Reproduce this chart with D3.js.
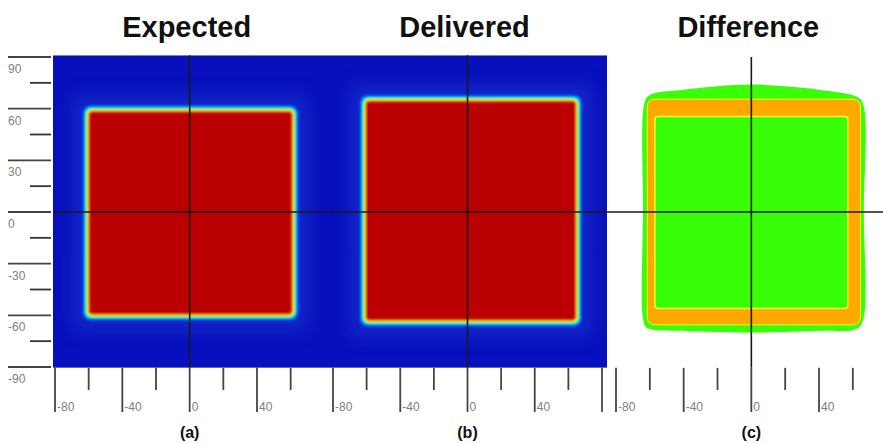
<!DOCTYPE html>
<html><head><meta charset="utf-8">
<script src="https://cdn.jsdelivr.net/npm/d3@7"></script>
<style>html,body{margin:0;padding:0;background:#fff;}svg{display:block;}</style>
</head><body><svg id="c" width="883" height="443"></svg>
<script>
// ---------- data ----------
const panelTitles = ["Expected", "Delivered", "Difference"];
const panelTags = ["(a)", "(b)", "(c)"];
const yMajorTicks = [90, 60, 30, 0, -30, -60, -90];
const yMajorLabels = ["90", "60", "30", "0", "-30", "-60", "-90"];
const yMinorTicks = [75, 45, 15, -15, -45, -75];
const xMajorTicksA = [-80, -40, 0, 40];
const xMajorTicksB = [-80, -40, 0, 40, 80];
const xMajorTicksC = [-80, -40, 0, 40];
const xMajorLabelsA = ["-80", "-40", "0", "40"];
const xMajorLabelsB = ["-80", "-40", "0", "40", ""];
const xMajorLabelsC = ["-80", "-40", "0", "40"];
const xMinorTicks = [-60, -20, 20, 60];
// field edges (50% isodose) [x0, x1, y0, y1] in mm
const expectedField = [-61, 62, -60.5, 59.5];
const deliveredField = [-61.5, 65.5, -64, 65.5];
// difference map regions
const diffOuterX = [-63, -60, -40, -20, 0, 20, 40, 62, 66, 66.5, 66, 62, 40, 0, -40, -62, -64, -64];
const diffOuterY = [64, 68, 71, 73, 74, 73, 71, 67, 63, 0, -63, -68, -69, -70, -69, -67, -62, 0];
const diffBand = [-61.5, 64.5, -65.5, 65.5];
const diffInner = [-57, 57, -56, 55.5];

// ---------- layout ----------
const svg = d3.select("#c");
const y = d3.scaleLinear().domain([-90, 90]).range([367, 57]);
const xs = [
  d3.scaleLinear().domain([-80, 40]).range([55, 257]),
  d3.scaleLinear().domain([-80, 80]).range([333, 602]),
  d3.scaleLinear().domain([-80, 40]).range([616, 819])
];
const panelX = [[53, 330], [330, 607], [607, 883]];
const blueTop = y(91), blueBot = y(-90.5);

const defs = svg.append("defs");
defs.append("filter").attr("id", "soft").attr("x", "-10%").attr("y", "-10%").attr("width", "120%").attr("height", "120%")
  .append("feGaussianBlur").attr("stdDeviation", 0.9);
defs.append("filter").attr("id", "halo").attr("x", "-30%").attr("y", "-30%").attr("width", "160%").attr("height", "160%")
  .append("feGaussianBlur").attr("stdDeviation", 9);
panelX.forEach((p, i) => {
  defs.append("clipPath").attr("id", "clip" + i).append("rect")
    .attr("x", p[0]).attr("y", blueTop).attr("width", p[1] - p[0]).attr("height", blueBot - blueTop);
});

// ---------- heat maps (a), (b) ----------
const rings = [
  {d: 5, c: "#0c30d8"}, {d: 3.8, c: "#0060f4"}, {d: 2.8, c: "#00a8ff"}, {d: 1.9, c: "#00e4d0"},
  {d: 1.0, c: "#50ff60"}, {d: 0.1, c: "#d8ff10"}, {d: -0.8, c: "#ffb000"}, {d: -1.6, c: "#ff4000"}
];
[expectedField, deliveredField].forEach((f, i) => {
  const x = xs[i];
  const g = svg.append("g").attr("clip-path", `url(#clip${i})`);
  g.append("rect").attr("x", panelX[i][0]).attr("y", blueTop)
    .attr("width", panelX[i][1] - panelX[i][0]).attr("height", blueBot - blueTop).attr("fill", "#0710bc");
  const L = x(f[0]), R = x(f[1]), T = y(f[3]), B = y(f[2]);
  g.append("rect").attr("x", L - 14).attr("y", T - 14).attr("width", R - L + 28).attr("height", B - T + 28)
    .attr("fill", "#2440d4").attr("opacity", 0.5).attr("filter", "url(#halo)");
  const fg = g.append("g").attr("filter", "url(#soft)");
  rings.forEach(r => {
    fg.append("rect").attr("x", L - r.d).attr("y", T - r.d)
      .attr("width", R - L + 2 * r.d).attr("height", B - T + 2 * r.d)
      .attr("rx", 5 + r.d * 0.6).attr("fill", r.c);
  });
  fg.append("rect").attr("x", L + 2.5).attr("y", T + 2.5)
    .attr("width", R - L - 5).attr("height", B - T - 5).attr("rx", 3).attr("fill", "#ba0604");
});

// ---------- difference map (c) ----------
{
  const x = xs[2];
  const g = svg.append("g");
  const pts = diffOuterX.map((v, k) => [x(v), y(diffOuterY[k])]);
  g.append("path").attr("d", d3.line().curve(d3.curveCatmullRomClosed.alpha(0.5))(pts))
    .attr("fill", "#38ff08");
  g.append("rect").attr("x", x(diffBand[0])).attr("y", y(diffBand[3]))
    .attr("width", x(diffBand[1]) - x(diffBand[0])).attr("height", y(diffBand[2]) - y(diffBand[3]))
    .attr("rx", 7).attr("fill", "#ffa800").attr("stroke", "#f8f020").attr("stroke-width", 1);
  g.append("rect").attr("x", x(diffInner[0])).attr("y", y(diffInner[3]))
    .attr("width", x(diffInner[1]) - x(diffInner[0])).attr("height", y(diffInner[2]) - y(diffInner[3]))
    .attr("rx", 3).attr("fill", "#38ff08").attr("stroke", "#f0ff30").attr("stroke-width", 1.5);
}

// ---------- cross lines ----------
svg.append("line").attr("x1", 53).attr("x2", 883).attr("y1", y(0)).attr("y2", y(0))
  .attr("stroke", "#1a1a1a").attr("stroke-width", 1.6);
xs.forEach((x, i) => {
  svg.append("line").attr("x1", x(0)).attr("x2", x(0)).attr("y1", i === 2 ? 57 : blueTop).attr("y2", blueBot)
    .attr("stroke", "#1a1a1a").attr("stroke-width", 1.6);
});

// ---------- left axis ----------
const tickCol = "#444", labCol = "#808080";
svg.selectAll(".ymaj").data(yMajorTicks).enter().append("line")
  .attr("x1", 8).attr("x2", 51).attr("y1", d => y(d)).attr("y2", d => y(d))
  .attr("stroke", tickCol).attr("stroke-width", 1.8);
svg.selectAll(".ymin").data(yMinorTicks).enter().append("line")
  .attr("x1", 30).attr("x2", 51).attr("y1", d => y(d)).attr("y2", d => y(d))
  .attr("stroke", "#333").attr("stroke-width", 1.8);
svg.selectAll(".ylab").data(yMajorTicks).enter().append("text")
  .attr("x", 8).attr("y", d => y(d) + 16).text((d, k) => yMajorLabels[k])
  .attr("font-family", "Liberation Sans, Arial, sans-serif").attr("font-size", 12).attr("fill", labCol);

// ---------- bottom axes ----------
const majors = [xMajorTicksA, xMajorTicksB, xMajorTicksC];
const majorLabels = [xMajorLabelsA, xMajorLabelsB, xMajorLabelsC];
xs.forEach((x, i) => {
  const g = svg.append("g");
  g.selectAll("line.maj").data(majors[i]).enter().append("line")
    .attr("x1", d => x(d)).attr("x2", d => x(d)).attr("y1", blueBot).attr("y2", 412)
    .attr("stroke", tickCol).attr("stroke-width", 1.8);
  g.selectAll("line.min").data(xMinorTicks).enter().append("line")
    .attr("x1", d => x(d)).attr("x2", d => x(d)).attr("y1", blueBot).attr("y2", 390)
    .attr("stroke", tickCol).attr("stroke-width", 1.8);
  g.selectAll("text").data(majors[i]).enter().append("text")
    .attr("x", d => x(d) + 2).attr("y", 411).text((d, k) => majorLabels[i][k])
    .attr("font-family", "Liberation Sans, Arial, sans-serif").attr("font-size", 12).attr("fill", labCol);
  svg.append("text").attr("x", x(0) - 3).attr("y", 37).attr("text-anchor", "middle")
    .text(panelTitles[i]).attr("font-family", "Liberation Sans, Arial, sans-serif")
    .attr("font-weight", "bold").attr("font-size", 29).attr("fill", "#111");
  svg.append("text").attr("x", x(0)).attr("y", 438).attr("text-anchor", "middle")
    .text(panelTags[i]).attr("font-family", "Liberation Sans, Arial, sans-serif")
    .attr("font-weight", "bold").attr("font-size", 16).attr("fill", "#111");
});
</script></body></html>
